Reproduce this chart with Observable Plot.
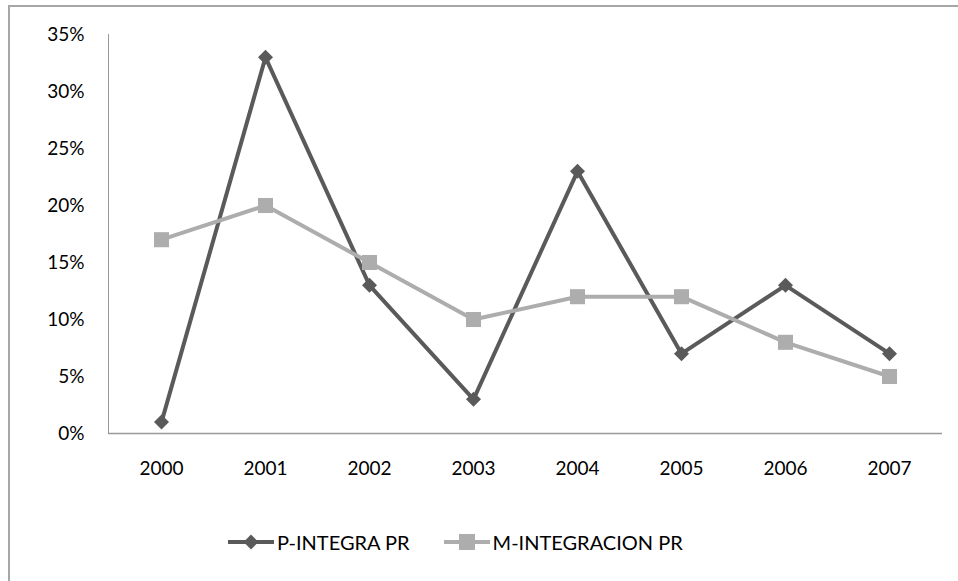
<!DOCTYPE html>
<html>
<head>
<meta charset="utf-8">
<script src="https://cdn.jsdelivr.net/npm/d3@7"></script>
<script src="https://cdn.jsdelivr.net/npm/@observablehq/plot@0.6"></script>
<style>
  body { margin: 0; background: #fff; font-family: Lato, "Open Sans", sans-serif; }
  #wrap { position: relative; width: 958px; height: 581px; overflow: hidden; background: #fff; }
  #frame { position: absolute; left: 8px; top: 5px; width: 960px; height: 600px; border-left: 2px solid #a6a6a6; border-top: 2px solid #a6a6a6; box-sizing: border-box; }
  #chart { position: absolute; left: 0; top: 0; }
  #legend { position: absolute; left: 228px; top: 530px; display: flex; align-items: center; font-size: 20px; color: #000; }
  .item { display: flex; align-items: center; margin-right: 34px; }
  .item svg { margin-right: 3px; }
</style>
</head>
<body>
<div id="wrap">
  <div id="frame"></div>
  <div id="chart"></div>
  <div id="legend"></div>
</div>
<script>
const years = ["2000","2001","2002","2003","2004","2005","2006","2007"];
const pIntegra = [0.01, 0.33, 0.13, 0.03, 0.23, 0.07, 0.13, 0.07];
const mIntegracion = [0.17, 0.20, 0.15, 0.10, 0.12, 0.12, 0.08, 0.05];
const seriesNames = ["P-INTEGRA PR", "M-INTEGRACION PR"];
const yTicks = [0, 0.05, 0.10, 0.15, 0.20, 0.25, 0.30, 0.35];

const colors = {"P-INTEGRA PR": "#5a5a5a", "M-INTEGRACION PR": "#adadad"};

// rotated square (Excel-style diamond marker)
const rhombus = {
  draw(context, size) {
    const r = Math.sqrt(size / 2);
    context.moveTo(0, -r);
    context.lineTo(r, 0);
    context.lineTo(0, r);
    context.lineTo(-r, 0);
    context.closePath();
  }
};

const pData = years.map((y, i) => ({year: y, value: pIntegra[i], series: seriesNames[0]}));
const mData = years.map((y, i) => ({year: y, value: mIntegracion[i], series: seriesNames[1]}));

const chart = Plot.plot({
  width: 958,
  height: 480,
  marginLeft: 108,
  marginRight: 16,
  marginTop: 34,
  marginBottom: 47,
  style: {fontFamily: "Lato, 'Open Sans', sans-serif", fontSize: "19px", color: "#000", background: "transparent"},
  x: {type: "band", domain: years, padding: 0, label: null},
  y: {domain: [0, 0.35], label: null},
  marks: [
    Plot.frame({anchor: "left", stroke: "#999", strokeOpacity: 1}),
    Plot.ruleY([0], {stroke: "#999", strokeWidth: 1.5}),
    Plot.axisY({ticks: yTicks, tickSize: 0, tickPadding: 24, tickFormat: d => Math.round(d * 100) + "%", label: null, fontSize: 19}),
    Plot.axisX({tickSize: 0, tickPadding: 28, label: null, fontSize: 19}),
    Plot.line(pData, {x: "year", y: "value", stroke: colors[seriesNames[0]], strokeWidth: 4}),
    Plot.dot(pData, {x: "year", y: "value", fill: colors[seriesNames[0]], symbol: rhombus, r: 6}),
    Plot.line(mData, {x: "year", y: "value", stroke: colors[seriesNames[1]], strokeWidth: 4}),
    Plot.dot(mData, {x: "year", y: "value", fill: colors[seriesNames[1]], symbol: "square", r: 8.5})
  ]
});
document.getElementById("chart").appendChild(chart);

const legend = d3.select("#legend");
seriesNames.forEach((name, i) => {
  const item = legend.append("div").attr("class", "item");
  const s = item.append("svg").attr("width", 46).attr("height", 20);
  s.append("line").attr("x1", 0).attr("x2", 46).attr("y1", 10).attr("y2", 10)
    .attr("stroke", colors[name]).attr("stroke-width", 4);
  const sym = i === 0 ? d3.symbol().type(rhombus).size(110) : d3.symbol().type(d3.symbolSquare).size(256);
  s.append("path").attr("d", sym()).attr("transform", "translate(23,10)").attr("fill", colors[name]);
  item.append("span").text(name);
});
</script>
</body>
</html>
